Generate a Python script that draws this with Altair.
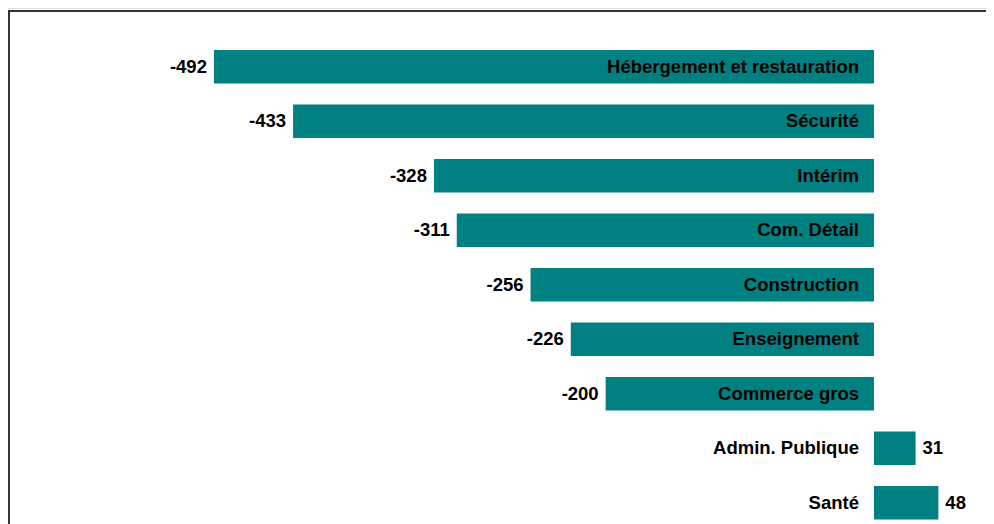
import altair as alt
import pandas as pd

categories = ["Hébergement et restauration", "Sécurité", "Intérim", "Com. Détail",
              "Construction", "Enseignement", "Commerce gros", "Admin. Publique", "Santé"]
values = [-492, -433, -328, -311, -256, -226, -200, 31, 48]

df = pd.DataFrame({"cat": categories, "val": values})
df["vlabel"] = df["val"].astype(str)

FONT = "Liberation Sans"
FS = 18.5
TEAL = "#008080"

x = alt.X("val:Q", axis=None, scale=alt.Scale(domain=[-645.5, 83.5], nice=False, zero=False))
y = alt.Y("cat:N", axis=None, sort=categories,
          scale=alt.Scale(range=[42, 511.5], paddingInner=0.385, paddingOuter=0))

base = alt.Chart(df)

bars = base.mark_bar(color=TEAL).encode(x=x, x2=alt.datum(0), y=y)

neg = base.transform_filter("datum.val < 0")
pos = base.transform_filter("datum.val >= 0")

txt = dict(font=FONT, fontSize=FS, fontWeight="bold", color="black", baseline="middle")

neg_val = neg.mark_text(align="right", dx=-7, **txt).encode(x=x, y=y, text="vlabel:N")
pos_val = pos.mark_text(align="left", dx=7, **txt).encode(x=x, y=y, text="vlabel:N")
cat_lab = base.mark_text(align="right", dx=-15, **txt).encode(x=alt.datum(0), y=y, text="cat:N")

border_left = alt.Chart(pd.DataFrame({"a": [0]})).mark_rule(color="#333333", strokeWidth=2).encode(
    x=alt.value(1), y=alt.value(3), y2=alt.value(516))
border_top = alt.Chart(pd.DataFrame({"a": [0]})).mark_rule(color="#333333", strokeWidth=2).encode(
    x=alt.value(0), x2=alt.value(978), y=alt.value(3))

chart = alt.layer(border_left, border_top, bars, neg_val, pos_val, cat_lab).properties(
    width=978, height=516, padding=0, autosize=alt.AutoSizeParams(type="none")
).configure_view(stroke=None).configure(background="white")

chart.save("out.html", embed_options={"renderer": "svg", "actions": False})
